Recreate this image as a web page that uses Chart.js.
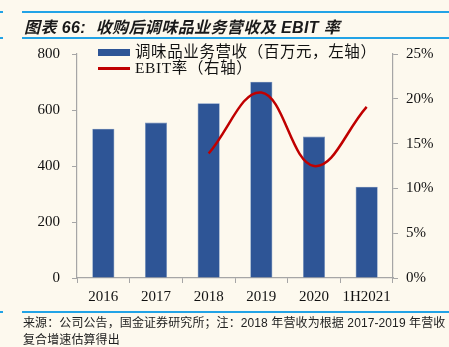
<!DOCTYPE html>
<html>
<head>
<meta charset="utf-8">
<script src="https://cdn.jsdelivr.net/npm/chart.js@4"></script>
<style>
  body { margin: 0; background: #fdf9ee; }
  #wrap { position: relative; width: 449px; height: 347px; overflow: hidden; background: #fdf9ee; }
  #myChart { position: absolute; left: 0; top: 0; }
  .rule { position: absolute; height: 2px; background: #22a3e6; }
  #title { position: absolute; left: 24px; top: 14px; font: italic bold 16px "Liberation Sans", "Noto Sans CJK SC"; color: #1a1a1a; white-space: nowrap; letter-spacing: 0.4px; }
  #note { position: absolute; left: 23px; top: 315px; font: 12px "Liberation Sans", "Noto Sans CJK SC"; color: #222; line-height: 17px; white-space: nowrap; letter-spacing: 0.1px; }
  .leg { position: absolute; left: 135px; font: 15.5px "Liberation Serif", "Noto Sans CJK SC"; color: #111; white-space: nowrap; line-height: 16px; letter-spacing: 0.6px; }
  .swatch { position: absolute; left: 98px; }
</style>
</head>
<body>
<div id="wrap">
  <canvas id="myChart" width="449" height="347"></canvas>
  <div class="rule" style="left:0;width:3px;top:11px"></div>
  <div class="rule" style="left:22px;width:427px;top:11px"></div>
  <div class="rule" style="left:0;width:3px;top:37px"></div>
  <div class="rule" style="left:22px;width:427px;top:37px"></div>
  <div class="rule" style="left:0;width:3px;top:311px"></div>
  <div class="rule" style="left:22px;width:427px;top:311px"></div>
  <div id="title">图表 66:&nbsp; 收购后调味品业务营收及 EBIT 率</div>
  <div class="swatch" style="top:49px;width:32px;height:7px;background:#2e5596"></div>
  <div class="leg" style="top:44px">调味品业务营收（百万元，左轴）</div>
  <div class="swatch" style="top:67px;width:32px;height:2.5px;background:#c00000"></div>
  <div class="leg" style="top:60px">EBIT率（右轴）</div>
  <div id="note">来源：公司公告，国金证券研究所；注：2018 年营收为根据 2017-2019 年营收<br>复合增速估算得出</div>
</div>
<script>
var years = ["2016", "2017", "2018", "2019", "2020", "1H2021"];
var revenue = [533, 555, 624, 701, 505, 326];
var ebitRate = [null, null, 13.9, 20.7, 12.5, 19.1];
var leftTicks = [0, 200, 400, 600, 800];
var rightTicks = [0, 5, 10, 15, 20, 25];

var axisColor = "#a6a6a6";
var tickFont = { family: "'Liberation Serif', 'Times New Roman', serif", size: 15 };

var ctx = document.getElementById("myChart");
var myChart = new Chart(ctx, {
    type: 'bar',
    data: {
        labels: years,
        datasets: [
        {
            type: 'line',
            label: "EBIT率（右轴）",
            data: ebitRate,
            yAxisID: 'y1',
            borderColor: "#c00000",
            borderWidth: 2.5,
            pointRadius: 0,
            tension: 0.4,
            fill: false,
            order: 0
        },
        {
            label: "调味品业务营收（百万元，左轴）",
            data: revenue,
            yAxisID: 'y',
            backgroundColor: "#2e5596",
            borderColor: "#6f8fc0",
            borderWidth: 0.6,
            barPercentage: 0.42,
            categoryPercentage: 1,
            order: 1
        }
        ]
    },
    options: {
        responsive: false,
        animation: false,
        devicePixelRatio: 1,
        layout: { padding: { top: 54, left: 0, right: 0, bottom: 0 } },
        plugins: { legend: { display: false }, tooltip: { enabled: false } },
        scales: {
            x: {
                offset: true,
                grid: { offset: true, drawOnChartArea: false, color: axisColor, tickLength: 5 },
                border: { color: axisColor, width: 1.2 },
                ticks: { font: tickFont, color: "#111", padding: 5, maxRotation: 0 },
                afterFit: function(s) { s.height = 69; }
            },
            y: {
                position: 'left',
                min: 0, max: 800,
                afterBuildTicks: function(s) { s.ticks = leftTicks.map(function(v) { return { value: v }; }); },
                grid: { drawOnChartArea: false, color: axisColor, tickLength: 5 },
                border: { color: axisColor, width: 1.2 },
                ticks: { font: tickFont, color: "#111", padding: 12 },
                afterFit: function(s) { s.width = 77; }
            },
            y1: {
                position: 'right',
                min: 0, max: 25,
                afterBuildTicks: function(s) { s.ticks = rightTicks.map(function(v) { return { value: v }; }); },
                grid: { drawOnChartArea: false, color: axisColor, tickLength: 5 },
                border: { color: axisColor, width: 1.2 },
                ticks: { font: tickFont, color: "#111", padding: 8, callback: function(v) { return v + "%"; } },
                afterFit: function(s) { s.width = 56; }
            }
        }
    }
});
</script>
</body>
</html>
